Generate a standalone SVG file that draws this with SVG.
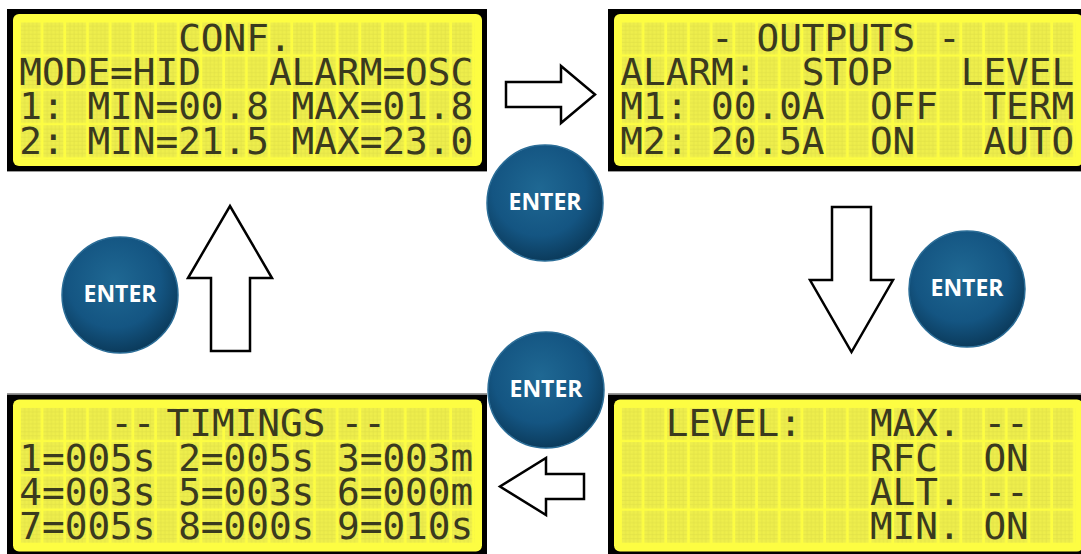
<svg xmlns="http://www.w3.org/2000/svg" width="1081" height="554" viewBox="0 0 1081 554">
  <defs>
    <pattern id="cell" patternUnits="userSpaceOnUse" x="13.7" y="13.3" width="22.7" height="34.3">
      <rect x="0" y="0" width="20" height="32" fill="#eeee4c"/>
      <path d="M4,0V32M8,0V32M12,0V32M16,0V32M0,4H20M0,8H20M0,12H20M0,16H20M0,20H20M0,24H20M0,28H20" stroke="#e0e046" stroke-width="0.7" fill="none"/>
    </pattern>
    <radialGradient id="btn" cx="0.45" cy="0.38" r="0.62">
      <stop offset="0" stop-color="#1f6893"/>
      <stop offset="0.65" stop-color="#145582"/>
      <stop offset="1" stop-color="#0b3b5c"/>
    </radialGradient>
    <style>
      .frame { fill: #000; }
      .screen { fill: #fdfd42; }
      .cells { fill: url(#cell); }
      .lcd { font-family: "DejaVu Sans Mono", "Liberation Mono", monospace; font-size: 37.7px; fill: #3a3a1e; white-space: pre; }
      .btn circle { fill: url(#btn); stroke: #2b6d97; stroke-width: 1.5; }
      .btn text { font-family: "Open Sans", "Liberation Sans", sans-serif; font-weight: bold; font-size: 23px; fill: #ffffff; text-anchor: middle; }
      .arrow { fill: #ffffff; stroke: #000; stroke-width: 2.5; stroke-linejoin: miter; }
      .shadow { stroke: #9a9a9a; stroke-width: 1; }
    </style>
  </defs>
  <rect width="1081" height="554" fill="#ffffff"/>

  <!-- Top-left LCD: CONF. -->
  <g id="lcd-conf" transform="translate(7,9)">
    <rect class="frame" x="0" y="0" width="480" height="162"/>
    <line class="shadow" x1="0" y1="162.5" x2="480" y2="162.5"/>
    <rect class="screen" x="6" y="5" width="469" height="152" rx="6"/>
    <rect class="cells" x="13.7" y="13.3" width="454" height="137.2"/>
    <text class="lcd" xml:space="preserve" x="12.35" y="41.8">       CONF.        </text>
    <text class="lcd" xml:space="preserve" x="12.35" y="76.1">MODE=HID   ALARM=OSC</text>
    <text class="lcd" xml:space="preserve" x="12.35" y="110.4">1: MIN=00.8 MAX=01.8</text>
    <text class="lcd" xml:space="preserve" x="12.35" y="144.7">2: MIN=21.5 MAX=23.0</text>
  </g>

  <!-- Top-right LCD: OUTPUTS -->
  <g id="lcd-outputs" transform="translate(608,9)">
    <rect class="frame" x="0" y="0" width="480" height="162"/>
    <line class="shadow" x1="0" y1="162.5" x2="480" y2="162.5"/>
    <rect class="screen" x="6" y="5" width="469" height="152" rx="6"/>
    <rect class="cells" x="13.7" y="13.3" width="454" height="137.2"/>
    <text class="lcd" xml:space="preserve" x="12.35" y="41.8">    - OUTPUTS -     </text>
    <text class="lcd" xml:space="preserve" x="12.35" y="76.1">ALARM:  STOP   LEVEL</text>
    <text class="lcd" xml:space="preserve" x="12.35" y="110.4">M1: 00.0A  OFF  TERM</text>
    <text class="lcd" xml:space="preserve" x="12.35" y="144.7">M2: 20.5A  ON   AUTO</text>
  </g>

  <!-- Bottom-left LCD: TIMINGS -->
  <g id="lcd-timings" transform="translate(7,394.5)">
    <line class="shadow" x1="0" y1="-1" x2="480" y2="-1"/>
    <rect class="frame" x="0" y="0" width="480" height="162"/>
    <rect class="screen" x="6" y="5" width="469" height="152" rx="6"/>
    <rect class="cells" x="13.7" y="13.3" width="454" height="137.2"/>
    <text class="lcd" y="41.8"><tspan x="103.15">--</tspan><tspan x="159.6">TIMINGS</tspan><tspan x="333.6">--</tspan></text>
    <text class="lcd" xml:space="preserve" x="12.35" y="76.1">1=005s 2=005s 3=003m</text>
    <text class="lcd" xml:space="preserve" x="12.35" y="110.4">4=003s 5=003s 6=000m</text>
    <text class="lcd" xml:space="preserve" x="12.35" y="144.7">7=005s 8=000s 9=010s</text>
  </g>

  <!-- Bottom-right LCD: LEVEL -->
  <g id="lcd-level" transform="translate(608,394.5)">
    <line class="shadow" x1="0" y1="-1" x2="480" y2="-1"/>
    <rect class="frame" x="0" y="0" width="480" height="162"/>
    <rect class="screen" x="6" y="5" width="469" height="152" rx="6"/>
    <rect class="cells" x="13.7" y="13.3" width="454" height="137.2"/>
    <text class="lcd" xml:space="preserve" x="12.35" y="41.8">  LEVEL:   MAX. --  </text>
    <text class="lcd" xml:space="preserve" x="12.35" y="76.1">           RFC  ON  </text>
    <text class="lcd" xml:space="preserve" x="12.35" y="110.4">           ALT. --  </text>
    <text class="lcd" xml:space="preserve" x="12.35" y="144.7">           MIN. ON  </text>
  </g>

  <!-- Connectors -->
  <g id="connectors">
    <path class="arrow" d="M506,82 H561 V66 L595,94.5 L561,123 V107 H506 Z"/>
    <path class="arrow" d="M832,207 H871 V280 H893 L851.5,352 L810,280 H832 Z"/>
    <path class="arrow" d="M584,474 H546 V458 L500,486.5 L546,515 V499 H584 Z"/>
    <path class="arrow" d="M211,351 V278 H188 L230,206 L272,278 H250 V351 Z"/>
  </g>

  <!-- ENTER buttons -->
  <g id="btn-enter-1" class="btn">
    <circle cx="545" cy="203" r="58"/>
    <text x="545" y="210">ENTER</text>
  </g>
  <g id="btn-enter-2" class="btn">
    <circle cx="967" cy="289" r="58"/>
    <text x="967" y="296">ENTER</text>
  </g>
  <g id="btn-enter-3" class="btn">
    <circle cx="546" cy="390" r="58"/>
    <text x="546" y="397">ENTER</text>
  </g>
  <g id="btn-enter-4" class="btn">
    <circle cx="120" cy="295" r="58"/>
    <text x="120" y="302">ENTER</text>
  </g>
</svg>
